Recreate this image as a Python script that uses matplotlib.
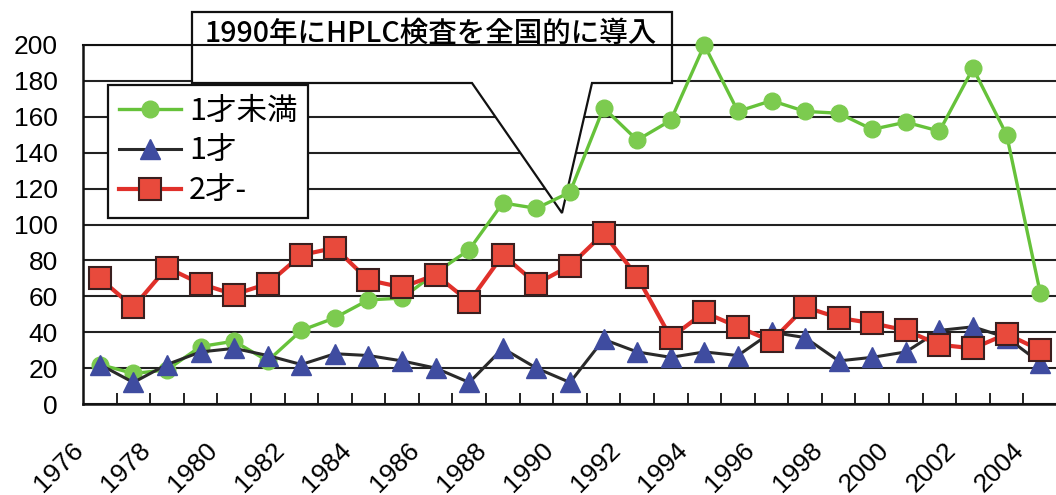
import matplotlib
matplotlib.use("Agg")
import matplotlib.pyplot as plt
from matplotlib.patches import Polygon
import matplotlib.transforms as mtransforms

plt.rcParams['font.family'] = ['Liberation Sans', 'Noto Sans CJK JP', 'DejaVu Sans']

# Yearly counts by age group
years = list(range(1976, 2005))
under_1 = [22, 17, 19, 32, 35, 24, 41, 48, 58, 59, 73, 86, 112, 109, 118,
           165, 147, 158, 200, 163, 169, 163, 162, 153, 157, 152, 187, 150, 62]
age_1 = [22, 12, 22, 29, 31, 27, 22, 28, 27, 24, 20, 12, 31, 20, 12,
         36, 29, 26, 29, 27, 40, 37, 24, 26, 29, 41, 43, 37, 23]
age_2plus = [70, 54, 76, 67, 61, 67, 83, 87, 69, 65, 72, 57, 83, 67, 77,
             95, 71, 37, 51, 43, 35, 54, 48, 45, 41, 33, 31, 39, 30]

series_labels = ['1才未満', '1才', '2才-']
y_ticks = [0, 20, 40, 60, 80, 100, 120, 140, 160, 180, 200]
x_label_years = list(range(1976, 2005, 2))
callout_text = '1990年にHPLC検査を全国的に導入'

W, H = 1056, 495
fig = plt.figure(figsize=(W / 100, H / 100), dpi=100)
ax = fig.add_axes([83 / W, 91 / H, (1057 - 83) / W, (404 - 45) / H])


def fx(px):
    return px / W


def fy(py):
    return 1 - py / H


green_line = '#66c23a'
green_fill = '#7ccb4f'
red_line = '#e0302a'
red_fill = '#e84a3c'
blue_fill = '#3f4ca0'

ax.plot(years, under_1, color=green_line, lw=2.4, marker='o', ms=12,
        mfc=green_fill, mec=green_fill, zorder=3, clip_on=False,
        label=series_labels[0])
ax.plot(years, age_1, color='#2a2a2a', lw=2.2, marker='^', ms=15,
        mfc=blue_fill, mec=blue_fill, zorder=4, clip_on=False,
        label=series_labels[1])
ax.plot(years, age_2plus, color=red_line, lw=3.0, marker='s', ms=16,
        mfc=red_fill, mec='#3a1f1f', mew=1.5, zorder=5, clip_on=False,
        label=series_labels[2])

ax.set_xlim(years[0] - 0.5, years[-1] + 0.5)
ax.set_ylim(0, 200)

# horizontal grid
ax.set_yticks(y_ticks)
ax.set_yticklabels([str(v) for v in y_ticks], fontsize=19)
ax.grid(axis='y', color='#222222', lw=1.5)
ax.set_axisbelow(True)
ax.tick_params(axis='y', length=0, pad=18)

# category boundary ticks and slanted year labels
ax.set_xticks(x_label_years)
ax.set_xticklabels([str(y) for y in x_label_years], fontsize=19,
                   rotation=45, ha='right', va='top', rotation_mode='anchor')
ax.set_xticks([y + 0.5 for y in years[:-1]], minor=True)
ax.tick_params(axis='x', which='major', length=0, pad=24.5)
ax.tick_params(axis='x', which='minor', direction='in', length=8, width=1.3,
               color='#111111')
shift = mtransforms.ScaledTranslation(-29 / 100, 0, fig.dpi_scale_trans)
for lbl in ax.get_xticklabels():
    lbl.set_transform(lbl.get_transform() + shift)

for side in ['left', 'bottom', 'top']:
    ax.spines[side].set_color('#111111')
    ax.spines[side].set_linewidth(1.8)
ax.spines['top'].set_linewidth(1.5)
ax.spines['right'].set_visible(False)

# callout box with pointer
pts = [(192, 12), (672, 12), (672, 83), (592, 83), (562, 213), (472, 83), (192, 83)]
callout = Polygon([(fx(x), fy(y)) for x, y in pts], closed=True,
                  transform=fig.transFigure, facecolor='white',
                  edgecolor='#111111', lw=1.6, zorder=2, clip_on=False)
ax.add_patch(callout)
ax.text(fx(205), fy(33), callout_text, transform=fig.transFigure,
        fontsize=20.5, fontweight='medium',
        family=['Noto Sans CJK JP', 'DejaVu Sans'],
        ha='left', va='center', zorder=6)

leg = ax.legend(loc='upper left', bbox_to_anchor=(fx(108), fy(85)),
                bbox_transform=fig.transFigure, borderaxespad=0,
                prop={'family': ['Noto Sans CJK JP', 'DejaVu Sans'], 'size': 22},
                frameon=True, fancybox=False, framealpha=1, edgecolor='#111111',
                handlelength=2.05, handletextpad=0.25, labelspacing=0.3,
                borderpad=0.35)
leg.get_frame().set_linewidth(1.6)
leg.set_zorder(7)

fig.savefig('out.png', dpi=100, facecolor='white')
